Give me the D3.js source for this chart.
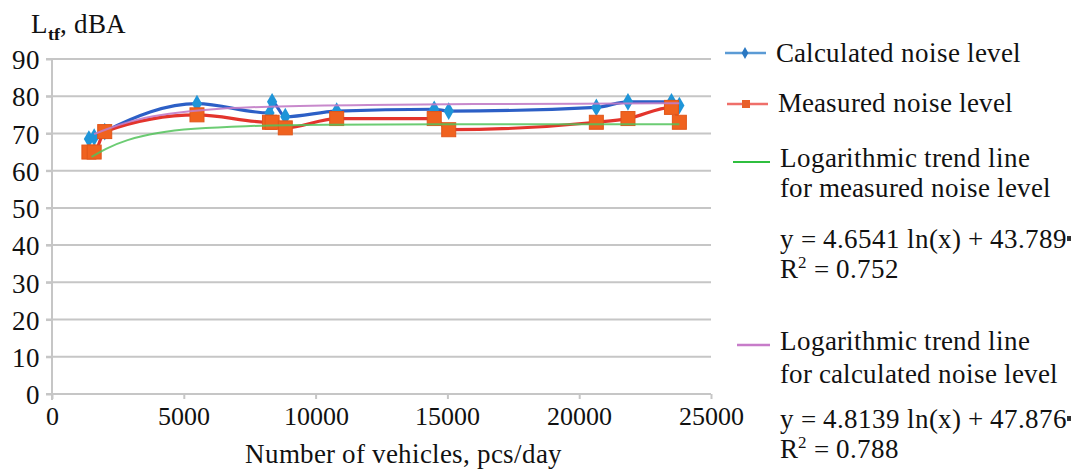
<!DOCTYPE html>
<html>
<head>
<meta charset="utf-8">
<script src="https://cdn.jsdelivr.net/npm/d3@7"></script>
<style>
  @font-face {
    font-family: "ChartSerif";
    src: local("Liberation Serif"), local("LiberationSerif"), local("LiberationSerif-Regular");
    font-weight: normal;
  }
  @font-face {
    font-family: "ChartSerif";
    src: local("Liberation Serif Bold"), local("LiberationSerif-Bold");
    font-weight: bold;
  }
  html, body { margin: 0; padding: 0; background: #fff; }
  svg text { font-family: "ChartSerif", "Liberation Serif", serif; }
</style>
</head>
<body>
<svg id="chart" width="1075" height="470"></svg>
<script>
// Traffic volume (vehicles per day) at each survey point
const vehicles = [1400, 1600, 2000, 5500, 8250, 8350, 8850, 10800, 14500, 15050, 20650, 21850, 23500, 23800];
// Calculated noise level, dBA
const calculated = [68.5, 69, 70.5, 78, 75.5, 78.5, 74.5, 76, 76.5, 76, 77, 78.5, 78.5, 77.5];
// Measured noise level, dBA
const measured = [65, 65, 70.5, 75, 73, 73, 71.5, 74, 74, 71, 73, 74, 77, 73];

// Logarithmic trend lines as plotted
const trendMeasuredX = [1500, 2000, 2800, 4000, 5300, 7200, 10000, 15000, 20000, 23800];
const trendMeasuredY = [63.7, 65.8, 68.3, 70.3, 71.3, 72.0, 72.4, 72.5, 72.5, 72.5];
const trendCalculatedX = [1600, 2000, 3000, 4000, 5500, 8000, 12000, 16000, 20000, 23800];
const trendCalculatedY = [69.8, 71.0, 73.4, 74.9, 76.3, 77.3, 77.7, 77.9, 78.0, 78.1];

const xTicks = [0, 5000, 10000, 15000, 20000, 25000];
const yTicks = [0, 10, 20, 30, 40, 50, 60, 70, 80, 90];

const legendItems = [
  "Calculated noise level",
  "Measured noise level",
  "Logarithmic trend line",
  "for measured noise level",
  "Logarithmic trend line",
  "for calculated noise level"
];
const equations = [
  ["y = 4.6541 ln(x) + 43.789", "0.752"],
  ["y = 4.8139 ln(x) + 47.876", "0.788"]
];

const face = "ChartSerif";
const svg = d3.select("#chart");
const plotLeft = 52, plotRight = 711, plotTop = 59, plotBottom = 394;

// apply the serif face to a text selection
function serif(sel, px) {
  return sel.style("font-family", `"${face}", "Liberation Serif", serif`)
    .style("font-size", `${px}px`)
    .attr("fill", "#111");
}
function label(parent, px) {
  return serif(parent.append("text"), px);
}

const x = d3.scaleLinear().domain([0, 25000]).range([plotLeft, plotRight]);
const y = d3.scaleLinear().domain([0, 90]).range([plotBottom, plotTop]);

const gridColor = "#c6c6c6";

function draw() {
  // horizontal gridlines
  svg.append("g").selectAll("line")
    .data(yTicks.filter(d => d > 0))
    .join("line")
    .attr("x1", plotLeft - 6).attr("x2", plotRight)
    .attr("y1", d => y(d)).attr("y2", d => y(d))
    .attr("stroke", gridColor).attr("stroke-width", 2);

  // y axis
  const yAxis = svg.append("g")
    .attr("transform", `translate(${plotLeft},0)`)
    .call(d3.axisLeft(y).tickValues(yTicks).tickSize(6).tickPadding(6).tickFormat(d3.format("d")))
    .attr("font-family", null).attr("font-size", null);
  yAxis.select(".domain").attr("stroke", gridColor).attr("stroke-width", 2)
    .attr("d", `M0,${plotTop}V${plotBottom + 6}`);
  yAxis.selectAll(".tick line").attr("stroke", gridColor).attr("stroke-width", 2);
  serif(yAxis.selectAll(".tick text"), 27).attr("dy", "0.36em");

  // x axis
  const xAxis = svg.append("g")
    .attr("transform", `translate(0,${plotBottom})`)
    .call(d3.axisBottom(x).tickValues(xTicks).tickSize(5).tickPadding(8).tickFormat(d3.format("d")))
    .attr("font-family", null).attr("font-size", null);
  xAxis.select(".domain").attr("stroke", gridColor).attr("stroke-width", 2)
    .attr("d", `M${plotLeft - 6},0H${plotRight}`);
  xAxis.selectAll(".tick line").attr("stroke", gridColor).attr("stroke-width", 2);
  serif(xAxis.selectAll(".tick text"), 26);

  // axis titles
  const yTitle = label(svg, 27).attr("x", 31).attr("y", 33);
  yTitle.append("tspan").text("L");
  yTitle.append("tspan").style("font-size", "18px").style("font-weight", "bold").attr("dy", 7).text("tf");
  yTitle.append("tspan").attr("dy", -7).text(", dBA");

  label(svg, 27).attr("x", (plotLeft + plotRight) / 2 + 22).attr("y", 463)
    .attr("text-anchor", "middle")
    .text("Number of vehicles, pcs/day");

  // series
  const calcPts = vehicles.map((v, i) => [v, calculated[i]]);
  const measPts = vehicles.map((v, i) => [v, measured[i]]);
  const smooth = d3.line().x(d => x(d[0])).y(d => y(d[1])).curve(d3.curveMonotoneX);

  const calcLine = "#2c5fc6", calcMark = "#1f95d8";
  const measLine = "#e3342c", measMark = "#f0621f";

  svg.append("path").datum(calcPts).attr("d", smooth)
    .attr("fill", "none").attr("stroke", calcLine).attr("stroke-width", 3.2);
  svg.append("path").datum(measPts).attr("d", smooth)
    .attr("fill", "none").attr("stroke", measLine).attr("stroke-width", 3.2);

  const diamond = d3.symbol().type(d3.symbolDiamond).size(90);
  svg.append("g").selectAll("path")
    .data(calcPts).join("path")
    .attr("transform", d => `translate(${x(d[0])},${y(d[1])})`)
    .attr("d", diamond).attr("fill", calcMark);

  svg.append("g").selectAll("rect")
    .data(measPts).join("rect")
    .attr("x", d => x(d[0]) - 7).attr("y", d => y(d[1]) - 7)
    .attr("width", 14).attr("height", 14)
    .attr("fill", measMark).attr("stroke", "#e0561a").attr("stroke-width", 1);

  // trend lines
  const plain = d3.line().x(d => x(d[0])).y(d => y(d[1])).curve(d3.curveBasis);
  svg.append("path").datum(trendMeasuredX.map((v, i) => [v, trendMeasuredY[i]])).attr("d", plain)
    .attr("fill", "none").attr("stroke", "#52c35a").attr("stroke-width", 2).attr("opacity", 0.85);
  svg.append("path").datum(trendCalculatedX.map((v, i) => [v, trendCalculatedY[i]])).attr("d", plain)
    .attr("fill", "none").attr("stroke", "#c27cc6").attr("stroke-width", 2).attr("opacity", 0.9);

  // legend
  const lg = svg.append("g");
  lg.append("line").attr("x1", 725).attr("x2", 766).attr("y1", 53).attr("y2", 53)
    .attr("stroke", "#5b9bd5").attr("stroke-width", 2.5);
  lg.append("path").attr("transform", "translate(745,53)")
    .attr("d", d3.symbol().type(d3.symbolDiamond).size(40)).attr("fill", "#2a78c2");
  label(lg, 27).attr("x", 776).attr("y", 62).text(legendItems[0]);

  lg.append("line").attr("x1", 727).attr("x2", 768).attr("y1", 104).attr("y2", 104)
    .attr("stroke", "#ef6f6a").attr("stroke-width", 2.5);
  lg.append("rect").attr("x", 742).attr("y", 100).attr("width", 8).attr("height", 8)
    .attr("fill", "#e8602a");
  label(lg, 27).attr("x", 778).attr("y", 112).text(legendItems[1]);

  lg.append("line").attr("x1", 733).attr("x2", 770).attr("y1", 162).attr("y2", 162)
    .attr("stroke", "#2fbf3f").attr("stroke-width", 2);
  label(lg, 27).attr("x", 780).attr("y", 167).text(legendItems[2]);
  label(lg, 27).attr("x", 780).attr("y", 197).text(legendItems[3]);

  lg.append("line").attr("x1", 737).attr("x2", 770).attr("y1", 345).attr("y2", 345)
    .attr("stroke", "#c77cc9").attr("stroke-width", 2.5);
  label(lg, 27).attr("x", 780).attr("y", 350).text(legendItems[4]);
  label(lg, 27).attr("x", 780).attr("y", 383).text(legendItems[5]);

  // equations
  function equation(x0, y0, eq) {
    const t = label(lg, 27).attr("x", x0).attr("y", y0).text(eq[0]);
    const w = t.node().getComputedTextLength();
    lg.append("rect").attr("x", x0 + w).attr("y", y0 - 12).attr("width", 4).attr("height", 5)
      .attr("fill", "#333");
    const r = label(lg, 27).attr("x", x0).attr("y", y0 + 30);
    r.append("tspan").text("R");
    r.append("tspan").style("font-size", "17px").attr("dy", -10).text("2");
    r.append("tspan").attr("dy", 10).text(" = " + eq[1]);
  }
  equation(780, 248, equations[0]);
  equation(780, 428, equations[1]);
}

draw();
</script>
</body>
</html>
